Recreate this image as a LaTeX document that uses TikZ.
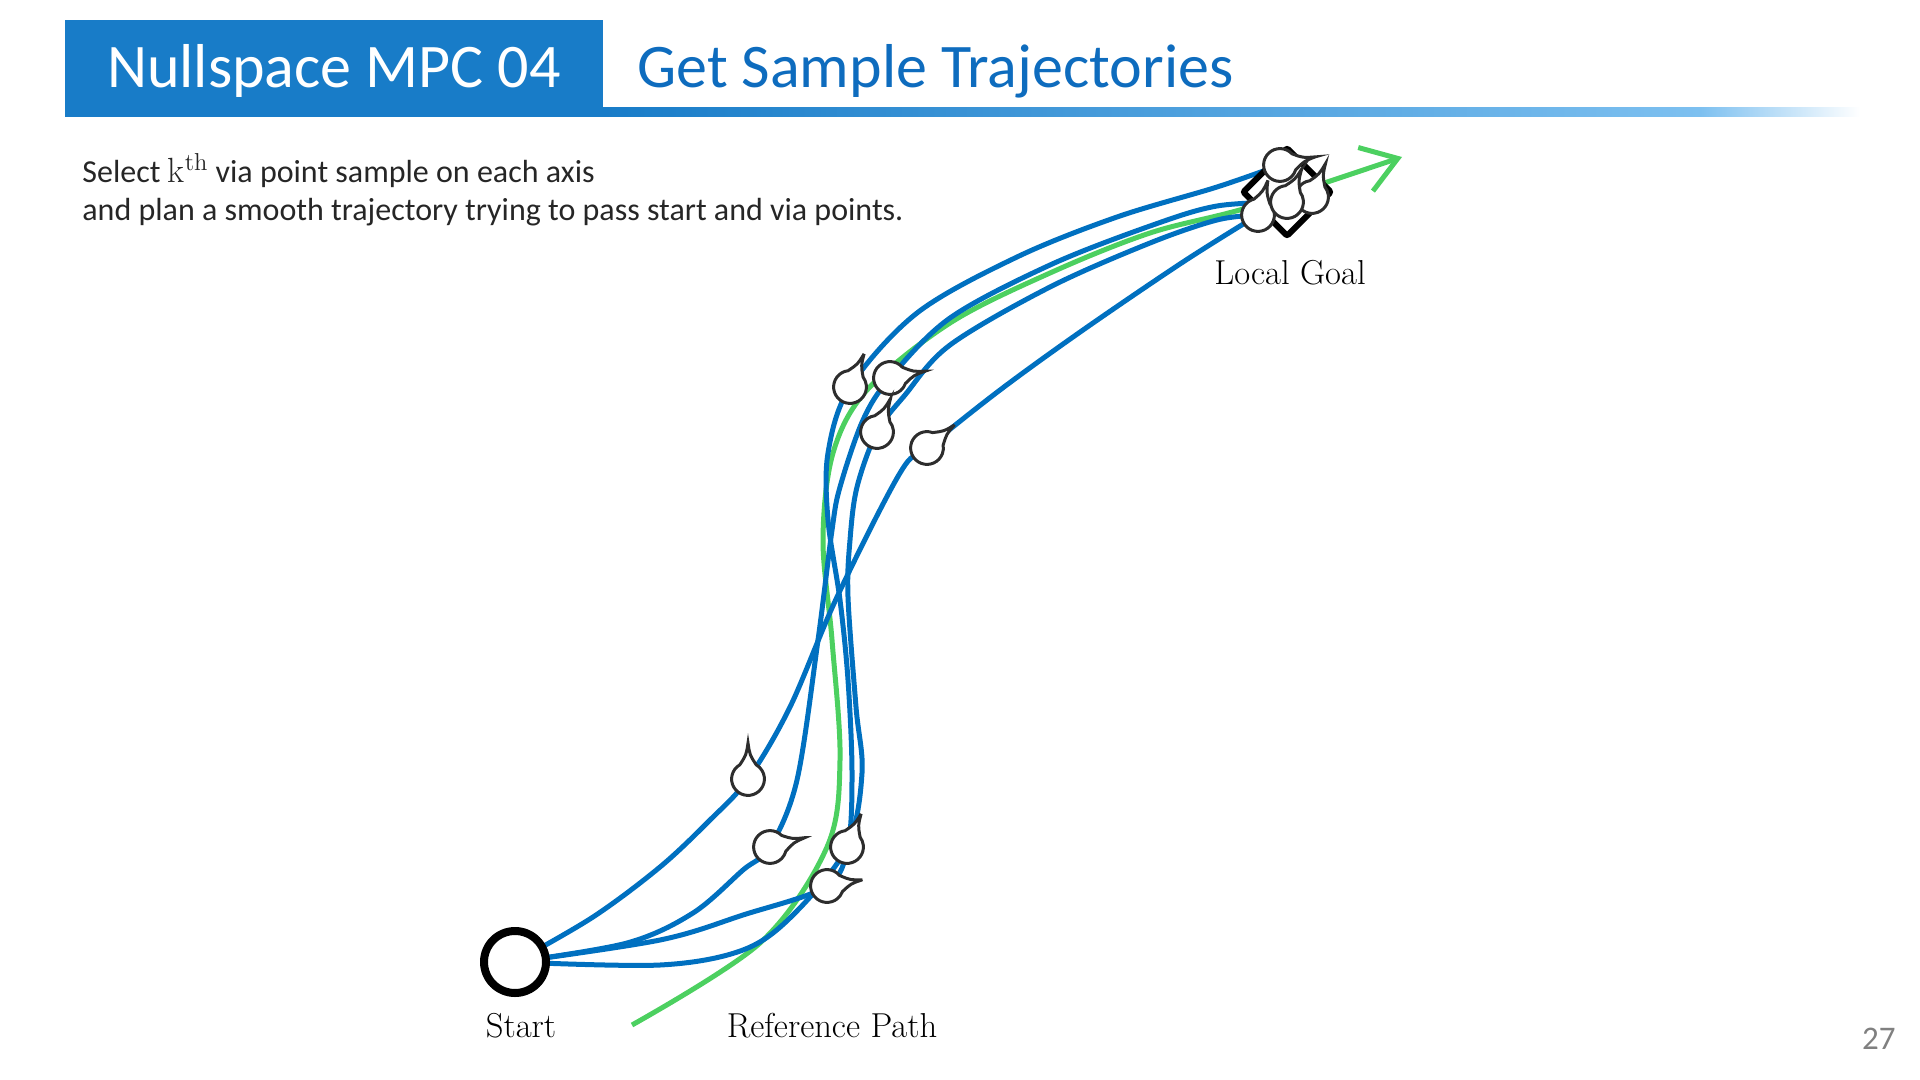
\documentclass[tikz,border=0pt]{standalone}
\usepackage{fontspec}
\usepackage{tikz}
\usetikzlibrary{shapes.geometric, arrows.meta, positioning, backgrounds}
\newfontfamily\calibri{Carlito}
\definecolor{hdrblue}{RGB}{24,124,200}
\definecolor{hdrlight}{RGB}{125,192,240}
\definecolor{titleblue}{RGB}{14,108,190}
\definecolor{trajblue}{RGB}{0,112,192}
\definecolor{refgreen}{RGB}{76,208,96}
\definecolor{bubgray}{RGB}{45,45,45}

\begin{document}
\begin{tikzpicture}[x=0.5pt, y=-0.5pt,
    traj/.style={draw=trajblue, line width=2.5pt},
    refpath/.style={draw=refgreen, line width=2.5pt},
    lbl/.style={font=\fontsize{17.3}{21}\selectfont, inner sep=0},
    viapt/.pic={
        \draw[line width=1.5pt, draw=bubgray, fill=white] (18pt,0pt) .. controls (12pt,0.9pt) .. (30:8.2pt)
            arc[start angle=30, end angle=330, radius=8.2pt] .. controls (12pt,-0.9pt) .. cycle;
    }]
    \useasboundingbox (0,0) rectangle (1920,1080);

    % Intestazione
    \shade[left color=hdrblue, right color=hdrlight] (603,108) rectangle (1700,117);
    \shade[left color=hdrlight, right color=white] (1700,108) rectangle (1860,117);
    \node[fill=hdrblue, minimum width=269pt, minimum height=48.5pt, inner sep=0] (hdrbox) at (334,68.5) {};
    \node[anchor=base, inner sep=0, text=white, font=\calibri\fontsize{31}{36}\selectfont] (hdrtxt) at (334,88) {Nullspace MPC 04};
    \node[anchor=base west, inner sep=0, text=titleblue, font=\calibri\fontsize{31}{36}\selectfont] (title) at (637,88) {Get Sample Trajectories};

    % Descrizione
    \node[anchor=base west, inner sep=0, text=black!85, font=\calibri\fontsize{16}{19}\selectfont] (desc1) at (82,183)
        {Select {\rmfamily\fontsize{17.5}{19}\selectfont k\textsuperscript{th}} via point sample on each axis};
    \node[anchor=base west, inner sep=0, text=black!85, font=\calibri\fontsize{16}{19}\selectfont] (desc2) at (82,221)
        {and plan a smooth trajectory trying to pass start and via points.};

    % Start e goal
    \node[circle, draw, line width=4pt, fill=white, minimum size=31pt, inner sep=0] (start) at (515,962) {};
    \node[diamond, draw, line width=3pt, minimum size=45pt, inner sep=0, rounded corners=1pt] (goal) at (1287,192) {};

    % Via point
    \coordinate (v1) at (748,779);
    \coordinate (v2) at (770,847);
    \coordinate (v3) at (847,847);
    \coordinate (v4) at (827,886);
    \coordinate (v5) at (850,387);
    \coordinate (v6) at (890,378);
    \coordinate (v7) at (877,432);
    \coordinate (v8) at (927,448);
    \coordinate (v9) at (1280,165);
    \coordinate (v10) at (1287,202);
    \coordinate (v11) at (1312,197);
    \coordinate (v12) at (1258,215);
    \coordinate (refend) at (1402,157);

    % Traiettorie
    \begin{scope}[on background layer]
        \draw[refpath, -{Straight Barb[length=17pt, width=23pt]}] plot[smooth, tension=0.55] coordinates {(632,1025) (760,943) (827,847) (840,760) (832,640) (823,540) (833,453) (867,390) (950,323) (1050,273) (1150,233) (1250,207) (refend)};
        \draw[traj] plot[smooth, tension=0.55] coordinates {(start) (593,917) (660,867) (710,820) (v1) (790,707) (837,597) (900,473) (v8) (1000,390) (1083,330) (1183,262) (v12)};
        \draw[traj] plot[smooth, tension=0.55] coordinates {(start) (627,943) (693,913) (743,870) (v2) (797,780) (818,640) (832,530) (840,487) (863,420) (v6) (950,318) (1050,265) (1150,226) (1217,206) (v10)};
        \draw[traj] plot[smooth, tension=0.55] coordinates {(start) (660,965) (743,950) (793,915) (v3) (862,773) (856,707) (848,597) (850,540) (857,487) (v7) (905,395) (950,345) (1050,287) (1150,243) (1217,220) (v12)};
        \draw[traj] plot[smooth, tension=0.55] coordinates {(start) (660,940) (743,915) (v4) (848,845) (852,773) (848,680) (840,600) (828,520) (828,453) (v5) (917,313) (1017,257) (1117,217) (1217,187) (v9)};
    \end{scope}

    % Campioni
    \pic[rotate=90] at (v1) {viapt};
    \pic[rotate=15] at (v2) {viapt};
    \pic[rotate=67] at (v3) {viapt};
    \pic[rotate=10] at (v4) {viapt};
    \pic[rotate=67] at (v5) {viapt};
    \pic[rotate=11] at (v6) {viapt};
    \pic[rotate=68] at (v7) {viapt};
    \pic[rotate=40] at (v8) {viapt};
    \pic[rotate=68] at (v11) {viapt};
    \pic[rotate=74] at (v12) {viapt};
    \pic[rotate=66] at (v10) {viapt};
    \pic[rotate=13] at (v9) {viapt};

    % Etichette
    \node[lbl, anchor=base] (startlbl) at (521,1037) {Start};
    \node[lbl, anchor=base] (reflbl) at (832,1037) {Reference Path};
    \node[lbl, anchor=base] (goallbl) at (1290,285) {Local Goal};
    \node[anchor=base east, inner sep=0, text=black!50, font=\calibri\fontsize{16.5}{20}\selectfont] (pagenum) at (1896,1049) {27};
\end{tikzpicture}
\end{document}
